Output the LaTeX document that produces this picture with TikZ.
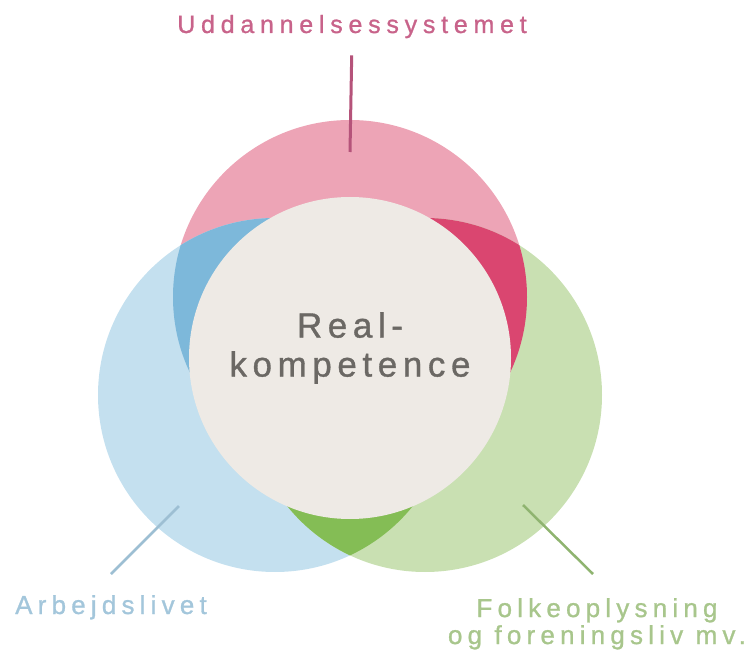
\documentclass[tikz,border=0pt]{standalone}
\usepackage{fontspec}
\setmainfont{Liberation Sans}[FakeBold=1]
\usetikzlibrary{positioning}
\definecolor{pk}{HTML}{EDA4B6}
\definecolor{bl}{HTML}{C4E0EF}
\definecolor{gr}{HTML}{C9E0B2}
\definecolor{pkbl}{HTML}{7DB8DA}
\definecolor{pkgr}{HTML}{DA4670}
\definecolor{blgr}{HTML}{84BD55}
\definecolor{rk}{HTML}{EEEAE5}
\definecolor{rktx}{HTML}{6B6864}
\definecolor{pktx}{HTML}{C8638A}
\definecolor{bltx}{HTML}{A3C6DB}
\definecolor{grtx}{HTML}{A8C68C}
\definecolor{pkln}{HTML}{B5537A}
\definecolor{blln}{HTML}{9DBFD3}
\definecolor{grln}{HTML}{8FB470}
\newcommand{\sprd}[1]{\addfontfeature{LetterSpace=#1}}
\tikzset{ring/.style={circle, inner sep=0pt, minimum size=354pt, fill=#1},
         lbl/.style={font=\fontsize{26}{27}\selectfont\sprd{20}, text=#1, inner sep=0pt, align=center},
         pind/.style={line width=2.5pt, draw=#1}}

\begin{document}
\begin{tikzpicture}[x=1pt, y=-1pt]
\useasboundingbox (0,0) rectangle (750,655);
\node[ring=pk] (udd) at (350,297) {};
\node[ring=bl] (arb) at (275,395) {};
\node[ring=gr] (folk) at (425,395) {};
% overlap
\begin{scope}
 \clip (udd.center) circle[radius=177pt];
 \fill[pkbl] (arb.center) circle[radius=177pt];
 \fill[pkgr] (folk.center) circle[radius=177pt];
\end{scope}
\begin{scope}
 \clip (arb.center) circle[radius=177pt];
 \fill[blgr] (folk.center) circle[radius=177pt];
\end{scope}
\node[circle, inner sep=0pt, minimum size=322pt, fill=rk] (real) at (350,358) {};
\node[lbl=rktx, font=\fontsize{35}{39}\selectfont\sprd{16}] (rktekst)
     at ([yshift=10pt]real.center) {Real-\\kompetence};
% labels
\node[lbl=pktx, font=\fontsize{25}{27}\selectfont\sprd{23}, anchor=base] (titel) at (352,33) {Uddannelsessystemet};
\node[lbl=bltx, anchor=base] (arbl) at (111,614) {Arbejdslivet};
\node[lbl=grtx, anchor=north] (folkl) at (597,598) {Folkeoplysning\\og foreningsliv mv.};
\coordinate (uddpkt) at (350,152);
\coordinate (arbpkt) at (179,506);
\coordinate (arbend) at (111,574);
\coordinate (folkpkt) at (523,505);
\coordinate (folkend) at (593,574);
\draw[pind=pkln, line width=3pt, shorten <=17pt] (titel.south) -- (uddpkt);
\draw[pind=blln] (arbpkt) -- (arbend);
\draw[pind=grln] (folkpkt) -- (folkend);
\end{tikzpicture}
\end{document}
